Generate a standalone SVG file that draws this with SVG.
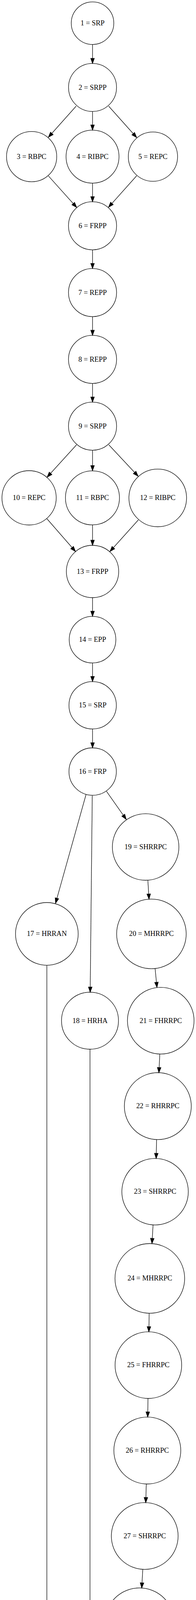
<svg xmlns="http://www.w3.org/2000/svg" width="502" height="5031" viewBox="0 0 502 5031">
<style>
.n circle{fill:none;stroke:#000;stroke-width:1.3}
.n text{font-family:"Liberation Serif","Times New Roman",serif;font-size:18.4px;text-anchor:middle;fill:#000}
.e path{fill:none;stroke:#000;stroke-width:1.3;marker-end:url(#ah)}
</style>
<defs>
<marker id="ah" markerUnits="userSpaceOnUse" viewBox="-2 -7 18 14" refX="13.1" refY="0" markerWidth="18" markerHeight="14" orient="auto" overflow="visible">
<path d="M0,-4.6 L13.1,0 L0,4.6 Z" fill="#000" stroke="#000" stroke-width="1.3"/>
</marker>
</defs>
<rect x="0" y="0" width="502" height="5031" fill="#fff"/>
<g id="edges" class="e">
<path d="M237,113.7 L237,162.6"/>
<path d="M195,271.7 L124,351.3"/>
<path d="M237,285.4 L237,333"/>
<path d="M278.3,271.7 L350,352"/>
<path d="M124,450.4 L196.4,531"/>
<path d="M237,468.8 L237,516.6"/>
<path d="M350,450 L278,530.5"/>
<path d="M237,639.6 L237,687.4"/>
<path d="M237,810.6 L237,858.6"/>
<path d="M237,981.6 L237,1029.4"/>
<path d="M196,1138.8 L120.7,1221.5"/>
<path d="M237,1152.6 L237,1205"/>
<path d="M278.7,1138.8 L353.7,1219"/>
<path d="M120,1327.7 L193.3,1411.7"/>
<path d="M237,1344 L237,1396"/>
<path d="M354.3,1331 L281.7,1411.7"/>
<path d="M237,1530 L237,1577.8"/>
<path d="M237,1697.2 L237,1744.8"/>
<path d="M237,1866 L237,1914.6"/>
<path d="M220.3,2034.3 L142.3,2312.3"/>
<path d="M236.3,2036.7 L231,2540"/>
<path d="M272.7,2025.7 L323.3,2097.7"/>
<path d="M378.7,2253.3 L381.7,2301.7"/>
<path d="M397.3,2480 L402,2527.7"/>
<path d="M409.3,2698.3 L407,2746"/>
<path d="M401,2917.3 L400,2965.7"/>
<path d="M392,3135.7 L389.3,3183.4"/>
<path d="M382,3362 L381.3,3409.4"/>
<path d="M379,3580 L378.3,3627.6"/>
<path d="M374.7,3799 L373.3,3846.7"/>
<path d="M365.7,4017.7 L363,4065.2"/>
<path d="M356.3,4243.2 L356,4291.4"/>
<path d="M309.7,4451 L268.3,4519.3"/>
<path d="M230.5,2686 L230.5,4509.3"/>
<path d="M120,2471.2 L120,4130 C120,4270 168,4420 201.7,4514"/>
<path d="M230.7,4653.3 L230.7,4700.7"/>
<path d="M230.7,4855.7 L230.7,4903.3"/>
</g>
<g id="n1" class="n"><circle cx="237" cy="59.3" r="54.5"/><text x="237" y="64.9">1 = SRP</text></g>
<g id="n2" class="n"><circle cx="237" cy="223.9" r="61.5"/><text x="237" y="229.5">2 = SRPP</text></g>
<g id="n3" class="n"><circle cx="81" cy="401" r="64.3"/><text x="81" y="406.6">3 = RBPC</text></g>
<g id="n4" class="n"><circle cx="237" cy="401" r="67.8"/><text x="237" y="406.6">4 = RIBPC</text></g>
<g id="n5" class="n"><circle cx="391.7" cy="401" r="63.1"/><text x="391.7" y="406.6">5 = REPC</text></g>
<g id="n6" class="n"><circle cx="237" cy="578" r="61.6"/><text x="237" y="583.6">6 = FRPP</text></g>
<g id="n7" class="n"><circle cx="237" cy="749" r="61.6"/><text x="237" y="754.6">7 = REPP</text></g>
<g id="n8" class="n"><circle cx="237" cy="920" r="61.6"/><text x="237" y="925.6">8 = REPP</text></g>
<g id="n9" class="n"><circle cx="237" cy="1091" r="61.6"/><text x="237" y="1096.6">9 = SRPP</text></g>
<g id="n10" class="n"><circle cx="74.5" cy="1274.5" r="69.5"/><text x="74.5" y="1280.1">10 = REPC</text></g>
<g id="n11" class="n"><circle cx="236.8" cy="1274.5" r="69.2"/><text x="236.8" y="1280.1">11 = RBPC</text></g>
<g id="n12" class="n"><circle cx="404" cy="1274.7" r="73.8"/><text x="404" y="1280.3">12 = RIBPC</text></g>
<g id="n13" class="n"><circle cx="237" cy="1463" r="67"/><text x="237" y="1468.6">13 = FRPP</text></g>
<g id="n14" class="n"><circle cx="237" cy="1637.5" r="59.7"/><text x="237" y="1643.1">14 = EPP</text></g>
<g id="n15" class="n"><circle cx="237.3" cy="1805.5" r="60.7"/><text x="237.3" y="1811.1">15 = SRP</text></g>
<g id="n16" class="n"><circle cx="237.3" cy="1975.2" r="60.7"/><text x="237.3" y="1980.8">16 = FRP</text></g>
<g id="n17" class="n"><circle cx="120" cy="2390.8" r="80.3"/><text x="120" y="2396.4">17 = HRRAN</text></g>
<g id="n18" class="n"><circle cx="230.5" cy="2613" r="73"/><text x="230.5" y="2618.6">18 = HRHA</text></g>
<g id="n19" class="n"><circle cx="373" cy="2168.3" r="85.2"/><text x="373" y="2173.9">19 = SHRRPC</text></g>
<g id="n20" class="n"><circle cx="387.8" cy="2390.8" r="89.1"/><text x="387.8" y="2396.4">20 = MHRRPC</text></g>
<g id="n21" class="n"><circle cx="411.7" cy="2613" r="85.3"/><text x="411.7" y="2618.6">21 = FHRRPC</text></g>
<g id="n22" class="n"><circle cx="404.2" cy="2831.7" r="85.7"/><text x="404.2" y="2837.3">22 = RHRRPC</text></g>
<g id="n23" class="n"><circle cx="397.2" cy="3050.7" r="85.1"/><text x="397.2" y="3056.3">23 = SHRRPC</text></g>
<g id="n24" class="n"><circle cx="383.7" cy="3272.7" r="89.2"/><text x="383.7" y="3278.3">24 = MHRRPC</text></g>
<g id="n25" class="n"><circle cx="380" cy="3494.7" r="85.3"/><text x="380" y="3500.3">25 = FHRRPC</text></g>
<g id="n26" class="n"><circle cx="377.3" cy="3713.3" r="85.7"/><text x="377.3" y="3718.9">26 = RHRRPC</text></g>
<g id="n27" class="n"><circle cx="370.7" cy="3932.2" r="85.5"/><text x="370.7" y="3937.8">27 = SHRRPC</text></g>
<g id="n28" class="n"><circle cx="357.3" cy="4154.2" r="89"/><text x="357.3" y="4159.8">28 = MHRRPC</text></g>
<g id="n29" class="n"><circle cx="354.5" cy="4376.7" r="85.3"/><text x="354.5" y="4382.3">29 = FHRRPC</text></g>
<g id="n30" class="n"><circle cx="230.7" cy="4581.3" r="72"/><text x="230.7" y="4586.9">30 = HRRR</text></g>
<g id="n31" class="n"><circle cx="230.7" cy="4778.2" r="77.4"/><text x="230.7" y="4783.8">31 = FHRRP</text></g>
<g id="n32" class="n"><circle cx="230.3" cy="4964.5" r="61"/><text x="230.3" y="4970.1">32 = FRP</text></g>
</svg>
